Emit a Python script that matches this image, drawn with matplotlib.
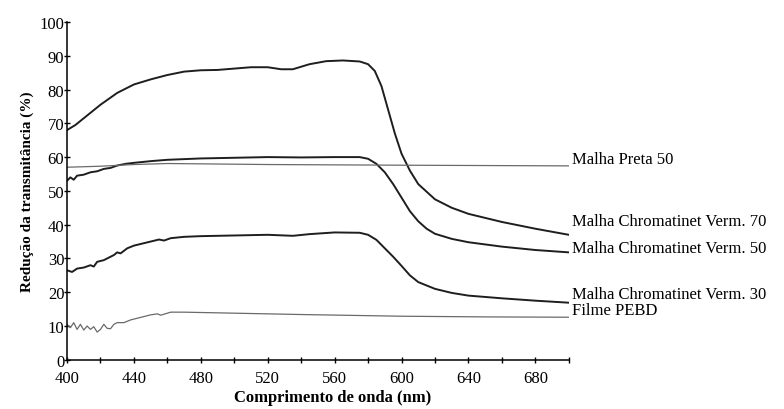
import matplotlib.pyplot as plt

plt.rcParams['font.family'] = ['Liberation Serif', 'DejaVu Serif']

# wavelength (nm) / reduction of transmittance (%)
wl_v70 = [400, 405, 410, 420, 430, 440, 450, 460, 470, 480, 490, 500, 510, 520, 528, 535,
          545, 555, 565, 575, 580, 584, 588, 592, 596, 600, 605, 610, 620, 630, 640, 660, 680, 700]
v70 = [68, 69.5, 71.5, 75.5, 79, 81.5, 83, 84.3, 85.3, 85.7, 85.8, 86.2, 86.6, 86.6, 86, 86,
       87.5, 88.4, 88.6, 88.3, 87.5, 85.5, 81, 74, 67, 61, 56, 52, 47.5, 45, 43.2, 40.8, 38.8, 37]

wl_v50 = [400, 402, 404, 406, 410, 414, 418, 422, 426, 430, 435, 440, 450, 460, 480, 500,
          520, 540, 560, 575, 580, 585, 590, 595, 600, 605, 610, 615, 620, 630, 640, 660, 680, 700]
v50 = [53, 54, 53.3, 54.5, 54.8, 55.5, 55.8, 56.5, 56.8, 57.5, 58, 58.3, 58.8, 59.2, 59.6, 59.8,
       60, 59.9, 60, 60, 59.5, 58, 55.5, 52, 48, 44, 41, 38.8, 37.3, 35.8, 34.8, 33.5, 32.5, 31.8]

wl_v30 = [400, 403, 406, 410, 414, 416, 418, 422, 426, 428, 430, 432, 436, 440, 450, 455, 458,
          462, 470, 480, 500, 520, 535, 545, 560, 575, 580, 585, 590, 595, 600, 605, 610, 620,
          630, 640, 660, 680, 700]
v30 = [26.5, 26, 27, 27.3, 28, 27.6, 29, 29.5, 30.5, 31, 31.8, 31.5, 33, 33.8, 35, 35.6, 35.3,
       36, 36.4, 36.6, 36.8, 37, 36.7, 37.2, 37.7, 37.6, 37, 35.5, 33, 30.5, 27.8, 25, 23, 21,
       19.8, 19, 18.2, 17.5, 16.9]

wl_preta = [400, 420, 440, 460, 480, 520, 560, 600, 650, 700]
preta = [57, 57.3, 57.8, 58.1, 58, 57.8, 57.7, 57.6, 57.5, 57.4]

wl_pebd = [400, 402, 404, 406, 408, 410, 412, 414, 416, 418, 420, 422, 424, 426, 428, 430, 434,
           438, 442, 446, 450, 454, 456, 458, 462, 470, 480, 500, 540, 600, 650, 700]
pebd = [10.5, 9.5, 11, 9, 10.5, 8.8, 10, 9, 9.8, 8.2, 9, 10.5, 9.3, 9.2, 10.5, 11, 11, 11.8,
        12.3, 12.8, 13.3, 13.6, 13.2, 13.5, 14.1, 14.1, 14, 13.8, 13.4, 12.9, 12.7, 12.6]

names = ['Malha Preta 50', 'Malha Chromatinet Verm. 70', 'Malha Chromatinet Verm. 50',
         'Malha Chromatinet Verm. 30', 'Filme PEBD']
label_y = [59.5, 41.1, 33.1, 19.5, 14.8]

fig = plt.figure(figsize=(7.84, 4.10), dpi=100)
ax = fig.add_axes([0.0855, 0.12, 0.64, 0.824])

dark = '#1e1e1e'
grey = '#6a6a6a'
ax.plot(wl_v70, v70, color=dark, lw=1.4)
ax.plot(wl_v50, v50, color=dark, lw=1.4)
ax.plot(wl_v30, v30, color=dark, lw=1.4)
ax.plot(wl_preta, preta, color=grey, lw=0.9)
ax.plot(wl_pebd, pebd, color=grey, lw=0.9)

for name, y in zip(names, label_y):
    ax.text(702, y, name, fontsize=12, va='center', ha='left', clip_on=False)

ax.set_xlim(400, 700)
ax.set_ylim(0, 100)
ax.set_xticks(range(400, 701, 40))
ax.set_xticks(range(420, 701, 40), minor=True)
ax.set_yticks(range(0, 101, 10))

for s in ['top', 'right']:
    ax.spines[s].set_visible(False)
for s in ['left', 'bottom']:
    ax.spines[s].set_linewidth(1.1)

ax.tick_params(axis='both', which='both', direction='inout', length=4, width=1, labelsize=12)
ax.tick_params(axis='x', pad=5)
ax.tick_params(axis='y', pad=0)

ax.set_xlabel('Comprimento de onda (nm)', fontsize=12, fontweight='bold')
ax.set_ylabel('Redução da transmitância (%)', fontsize=11, fontweight='bold', labelpad=4)
ax.xaxis.set_label_coords(0.53, -0.085)

fig.savefig('out.png', dpi=100)
